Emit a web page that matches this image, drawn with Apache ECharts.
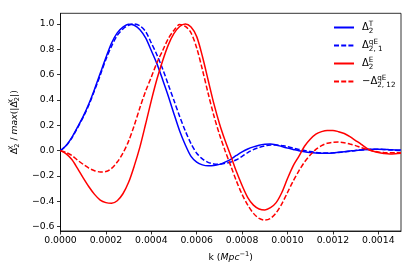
<!DOCTYPE html>
<html>
<head>
<meta charset="utf-8">
<script src="https://cdn.jsdelivr.net/npm/echarts@6/dist/echarts.min.js"></script>
<style>
html,body{margin:0;padding:0;background:#fff;}
#c{width:415px;height:277px;}
</style>
</head>
<body>
<div id="c"></div>
<script>
// k values (Mpc^-1)
const kValues = [0, 0.000025, 0.00005, 0.000075, 0.0001, 0.000125, 0.00015, 0.000175, 0.0002, 0.000225,
  0.00025, 0.000275, 0.0003, 0.000325, 0.00035, 0.000375, 0.0004, 0.000425, 0.00045, 0.000475,
  0.0005, 0.000525, 0.00055, 0.000575, 0.0006, 0.000625, 0.00065, 0.000675, 0.0007, 0.000725,
  0.00075, 0.000775, 0.0008, 0.000825, 0.00085, 0.000875, 0.0009, 0.000925, 0.00095, 0.000975,
  0.001, 0.001025, 0.00105, 0.001075, 0.0011, 0.001125, 0.00115, 0.001175, 0.0012, 0.001225,
  0.00125, 0.001275, 0.0013, 0.001325, 0.00135, 0.001375, 0.0014, 0.001425, 0.00145, 0.001475, 0.0015];

// Delta_2^T (blue solid)
const deltaT = [0, 0.04, 0.105, 0.185, 0.27, 0.37, 0.485, 0.61, 0.735, 0.85,
  0.93, 0.975, 0.998, 0.99, 0.955, 0.89, 0.79, 0.685, 0.56, 0.43,
  0.29, 0.155, 0.045, -0.045, -0.09, -0.112, -0.12, -0.118, -0.108, -0.09,
  -0.068, -0.038, -0.01, 0.013, 0.03, 0.043, 0.05, 0.052, 0.045, 0.033,
  0.02, 0.01, 0.0, -0.008, -0.014, -0.018, -0.02, -0.02, -0.018, -0.013,
  -0.008, -0.003, 0.002, 0.006, 0.009, 0.011, 0.011, 0.01, 0.008, 0.006, 0.005];

// Delta_{2,1}^{qE} (blue dashed)
const deltaQE1 = [0, 0.04, 0.1, 0.18, 0.265, 0.36, 0.475, 0.595, 0.72, 0.825,
  0.91, 0.96, 0.99, 1.0, 0.985, 0.94, 0.85, 0.755, 0.645, 0.52,
  0.395, 0.27, 0.155, 0.055, -0.02, -0.065, -0.092, -0.105, -0.107, -0.1,
  -0.09, -0.072, -0.045, -0.015, 0.008, 0.025, 0.038, 0.045, 0.045, 0.04,
  0.032, 0.02, 0.01, 0.002, -0.007, -0.014, -0.018, -0.019, -0.017, -0.014,
  -0.01, -0.004, 0.002, 0.006, 0.009, 0.011, 0.011, 0.009, 0.006, 0.003, 0.0];

// Delta_2^E (red solid)
const deltaE = [0, -0.025, -0.07, -0.14, -0.215, -0.285, -0.345, -0.39, -0.41, -0.415,
  -0.395, -0.34, -0.25, -0.12, 0.03, 0.21, 0.395, 0.565, 0.71, 0.835,
  0.925, 0.98, 1.0, 0.975, 0.9, 0.745, 0.56, 0.375, 0.215, 0.08,
  -0.04, -0.165, -0.275, -0.37, -0.43, -0.46, -0.468, -0.45, -0.41, -0.33,
  -0.22, -0.12, -0.045, 0.035, 0.09, 0.13, 0.15, 0.16, 0.16, 0.15,
  0.135, 0.11, 0.08, 0.05, 0.018, -0.003, -0.015, -0.022, -0.026, -0.024, -0.02];

// -Delta_{2,12}^{qE} (red dashed)
const deltaQE12 = [0, -0.015, -0.038, -0.075, -0.108, -0.138, -0.158, -0.168, -0.165, -0.14,
  -0.09, -0.02, 0.075, 0.2, 0.34, 0.47, 0.58, 0.695, 0.79, 0.885,
  0.95, 0.995, 0.98, 0.93, 0.81, 0.64, 0.455, 0.28, 0.13, 0.0,
  -0.12, -0.24, -0.345, -0.43, -0.495, -0.535, -0.548, -0.535, -0.49, -0.42,
  -0.33, -0.24, -0.16, -0.09, -0.035, 0.01, 0.04, 0.058, 0.066, 0.068,
  0.063, 0.052, 0.04, 0.024, 0.01, -0.002, -0.01, -0.015, -0.017, -0.017, -0.016];

const xTicks = [0, 0.0002, 0.0004, 0.0006, 0.0008, 0.001, 0.0012, 0.0014];
const yTicks = [-0.6, -0.4, -0.2, 0.0, 0.2, 0.4, 0.6, 0.8, 1.0];

const seriesNames = ['T', 'qE1', 'E', 'qE12'];
const legendLabels = {
  'T': '{b|Δ}{sup|T}{sub|2}',
  'qE1': '{b|Δ}{sup|qE}{sub|2, 1}',
  'E': '{b|Δ}{sup|E}{sub|2}',
  'qE12': '{b|−Δ}{sup|qE}{sub|2, 12}'
};

const FONT = 'DejaVu Sans';
function richSet(base, lh) {
  return {
    b: {fontFamily: FONT, fontSize: base, lineHeight: lh, color: '#000'},
    i: {fontFamily: FONT, fontSize: base, fontStyle: 'italic', lineHeight: lh, color: '#000'},
    sup: {fontFamily: FONT, fontSize: base * 0.72, lineHeight: base * 0.8, verticalAlign: 'top', width: 0, color: '#000'},
    supw: {fontFamily: FONT, fontSize: base * 0.72, lineHeight: base * 0.8, verticalAlign: 'top', color: '#000'},
    sub: {fontFamily: FONT, fontSize: base * 0.72, lineHeight: base * 0.8, verticalAlign: 'bottom', color: '#000'}
  };
}

function zip(ys) { return kValues.map((k, i) => [k, ys[i]]); }

const chart = echarts.init(document.getElementById('c'), null, {renderer: 'canvas'});
const lineW = 1.5;
const dash = [5, 2.2];
chart.setOption({
  animation: false,
  backgroundColor: '#fff',
  grid: {left: 60.5, right: 14, top: 13.3, bottom: 46, show: true, borderColor: '#000', borderWidth: 0.8, backgroundColor: 'transparent'},
  legend: {
    data: seriesNames,
    orient: 'vertical',
    left: 333,
    top: 20.5,
    padding: 0,
    itemWidth: 20,
    itemHeight: 10,
    itemGap: 4,
    itemStyle: {opacity: 0, color: 'rgba(0,0,0,0)', borderWidth: 0},
    formatter: n => legendLabels[n],
    textStyle: {rich: richSet(10, 14), padding: [0, 0, 0, 3]}
  },
  xAxis: {
    type: 'value', min: 0, max: 0.0015,
    name: '{b|k (}{i|Mpc}{supw|−1}{b|)}',
    nameLocation: 'middle', nameGap: 19,
    nameTextStyle: {rich: richSet(9.3, 14)},
    axisLine: {show: true, onZero: false, lineStyle: {color: '#000', width: 0.8}},
    axisTick: {show: true, length: 3.5, lineStyle: {color: '#000', width: 0.8}, customValues: xTicks},
    axisLabel: {customValues: xTicks, margin: 5.5, color: '#000', fontFamily: FONT, fontSize: 9.3,
      formatter: v => v.toFixed(4)},
    splitLine: {show: false}
  },
  yAxis: {
    type: 'value', min: -0.634, max: 1.084,
    name: '{b|Δ}{sup|X}{sub|2}{b| / }{i|max}{b|(|Δ}{sup|X}{sub|2}{b||)}',
    nameLocation: 'middle', nameGap: 18,
    nameTextStyle: {rich: richSet(9.3, 13)},
    axisLine: {show: true, onZero: false, lineStyle: {color: '#000', width: 0.8}},
    axisTick: {show: true, length: 3.5, lineStyle: {color: '#000', width: 0.8}, customValues: yTicks},
    axisLabel: {customValues: yTicks, margin: 6, color: '#000', fontFamily: FONT, fontSize: 9.3,
      formatter: v => (v < -1e-9 ? '−' : '') + Math.abs(v).toFixed(1)},
    splitLine: {show: false}
  },
  series: [
    {name: 'T', type: 'line', data: zip(deltaT), showSymbol: false, symbol: 'none', smooth: 0.3,
      color: '#0000ff', lineStyle: {color: '#0000ff', width: lineW}},
    {name: 'qE1', type: 'line', data: zip(deltaQE1), showSymbol: false, symbol: 'none', smooth: 0.3,
      color: '#0000ff', lineStyle: {color: '#0000ff', width: lineW, type: dash}},
    {name: 'E', type: 'line', data: zip(deltaE), showSymbol: false, symbol: 'none', smooth: 0.3,
      color: '#ff0000', lineStyle: {color: '#ff0000', width: lineW}},
    {name: 'qE12', type: 'line', data: zip(deltaQE12), showSymbol: false, symbol: 'none', smooth: 0.3,
      color: '#ff0000', lineStyle: {color: '#ff0000', width: lineW, type: dash}}
  ]
});
</script>
</body>
</html>
